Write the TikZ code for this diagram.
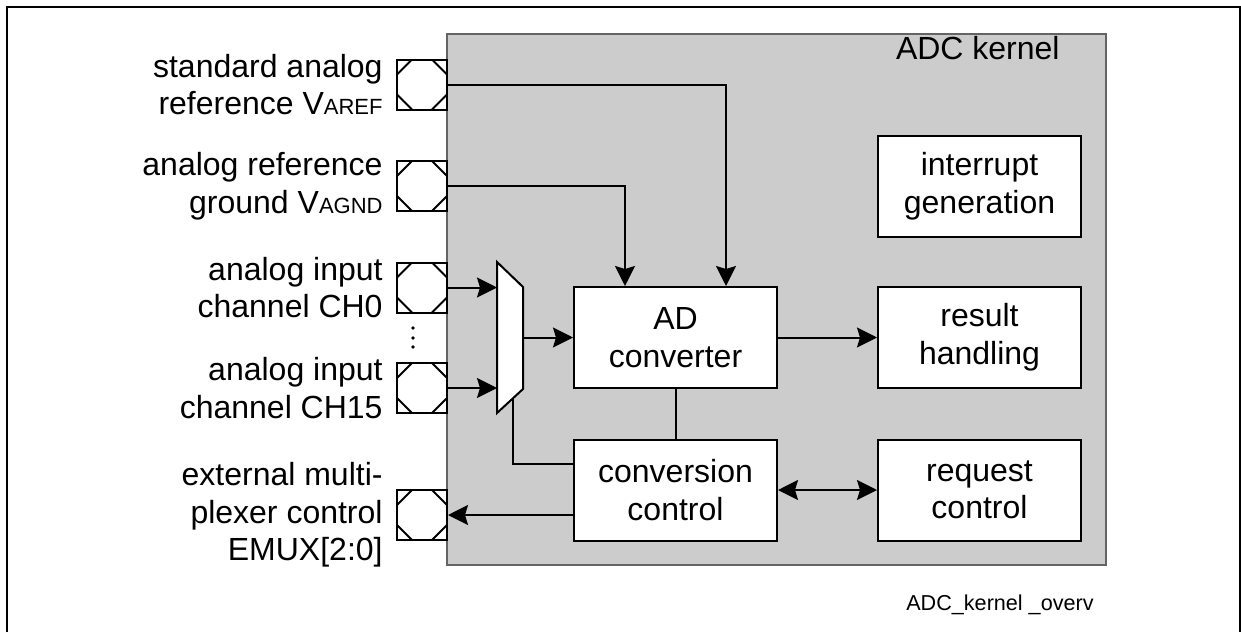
\documentclass[tikz,border=0pt]{standalone}
\usepackage{fontspec}
\setmainfont{Liberation Sans}
\usetikzlibrary{arrows.meta}
\definecolor{kernelgray}{RGB}{204,204,204}
\definecolor{kernelline}{RGB}{100,100,100}
\newcommand{\pinsub}{\fontsize{11}{12}\selectfont}
\tikzset{
  block/.style={draw, line width=1pt, fill=white, minimum width=101.5pt, minimum height=50.5pt, align=center, inner sep=0pt},
  pad/.style={draw, line width=1pt, fill=white, minimum size=25pt, inner sep=0pt,
    path picture={
      \draw[line width=1pt] ([xshift=7.5pt]path picture bounding box.north west) -- ([yshift=-7.5pt]path picture bounding box.north west);
      \draw[line width=1pt] ([xshift=-7.5pt]path picture bounding box.north east) -- ([yshift=-7.5pt]path picture bounding box.north east);
      \draw[line width=1pt] ([xshift=7.5pt]path picture bounding box.south west) -- ([yshift=7.5pt]path picture bounding box.south west);
      \draw[line width=1pt] ([xshift=-7.5pt]path picture bounding box.south east) -- ([yshift=7.5pt]path picture bounding box.south east);
    }},
  pinlabel/.style={anchor=east, align=right, inner sep=0pt},
  wire/.style={line width=1pt}
}
\begin{document}
\begin{tikzpicture}[x=0.5pt, y=-0.5pt, >={Stealth[length=10pt, width=10pt, inset=1.5pt]}, font=\fontsize{16}{18.8}\selectfont]
  \useasboundingbox (0,0) rectangle (1241,632);
  \draw[line width=1pt] (7,632) -- (7,7) -- (1239.5,7) -- (1239.5,632);
  \draw[kernelline, fill=kernelgray, line width=0.8pt] (447,34) rectangle (1106,565);
  \node[anchor=east, inner sep=0pt] (kernel) at (1060,48) {ADC kernel};

  \node[pad] (pref) at (422,84.5) {};
  \node[pad] (pgnd) at (422,186) {};
  \node[pad] (pch0) at (422,287.5) {};
  \node[pad] (pch15) at (422,388) {};
  \node[pad] (pemux) at (422,515) {};
  \node[pinlabel] (lref) at (383,84.5) {standard analog\\reference V{\pinsub AREF}};
  \node[pinlabel] (lgnd) at (383,186) {analog reference\\ground V{\pinsub AGND}};
  \node[pinlabel] (lch0) at (383,287.5) {analog input\\channel CH0};
  \node[pinlabel] (lch15) at (383,388) {analog input\\channel CH15};
  \node[pinlabel] (lemux) at (383,515) {external multi-\\plexer control\\EMUX[2:0]};
  \foreach \y in {328,338,347} \fill (413,\y) circle (0.9pt);

  \draw[wire, fill=white] (497,262) -- (523,287) -- (523,389) -- (497,413) -- cycle;
  \coordinate (mux0) at (497,287.5);
  \coordinate (mux15) at (497,388);
  \coordinate (muxout) at (523,337.5);
  \coordinate (muxsel) at (513,398);

  \node[block] (ad) at (675.5,337.5) {AD\\converter};
  \node[block] (conv) at (675.5,490) {conversion\\control};
  \node[block] (intr) at (979.5,186) {interrupt\\generation};
  \node[block] (result) at (979.5,337.5) {result\\handling};
  \node[block] (request) at (979.5,490) {request\\control};

  \draw[wire, ->] (pref.east) -| ([xshift=25.25pt]ad.north);
  \draw[wire, ->] (pgnd.east) -| ([xshift=-25.25pt]ad.north);
  \draw[wire, ->] (pch0.east) -- (mux0);
  \draw[wire, ->] (pch15.east) -- (mux15);
  \draw[wire, ->] (muxout) -- (ad.west);
  \draw[wire] (muxsel) |- ([yshift=13pt]conv.west);
  \draw[wire] (ad.south) -- (conv.north);
  \draw[wire, ->] (conv.west |- pemux.east) -- (pemux.east);
  \draw[wire, ->] (ad.east) -- (result.west);
  \draw[wire, <->] (conv.east) -- (request.west);

  \node[anchor=east, inner sep=0pt, font=\fontsize{10.8}{12}\selectfont] (figid) at (1094,605) {ADC\_kernel \_overv};
\end{tikzpicture}
\end{document}
